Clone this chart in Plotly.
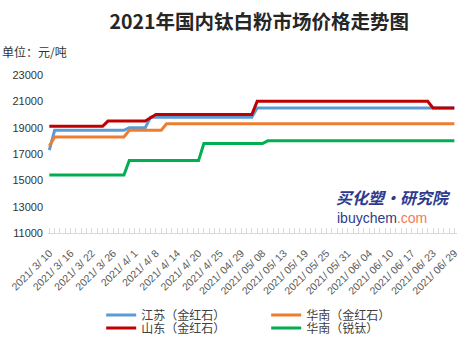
import plotly.graph_objects as go

dates = [
    "2021/3/10", "2021/3/11", "2021/3/12", "2021/3/15", "2021/3/16", "2021/3/17", "2021/3/18", "2021/3/19",
    "2021/3/22", "2021/3/23", "2021/3/24", "2021/3/25", "2021/3/26", "2021/3/29", "2021/3/30", "2021/3/31",
    "2021/4/1", "2021/4/2", "2021/4/6", "2021/4/7", "2021/4/8", "2021/4/9", "2021/4/12", "2021/4/13",
    "2021/4/14", "2021/4/15", "2021/4/16", "2021/4/19", "2021/4/20", "2021/4/21", "2021/4/22", "2021/4/23",
    "2021/4/25", "2021/4/26", "2021/4/27", "2021/4/28", "2021/04/29", "2021/04/30", "2021/05/06", "2021/05/07",
    "2021/05/08", "2021/05/10", "2021/05/11", "2021/05/12", "2021/05/13", "2021/05/14", "2021/05/17", "2021/05/18",
    "2021/05/19", "2021/05/20", "2021/05/21", "2021/05/24", "2021/05/25", "2021/05/26", "2021/05/27", "2021/05/28",
    "2021/05/31", "2021/06/01", "2021/06/02", "2021/06/03", "2021/06/04", "2021/06/07", "2021/06/08", "2021/06/09",
    "2021/06/10", "2021/06/11", "2021/06/15", "2021/06/16", "2021/06/17", "2021/06/18", "2021/06/21", "2021/06/22",
    "2021/06/23", "2021/06/24", "2021/06/25", "2021/06/28", "2021/06/29",
]

jiangsu = [
    17300,
    18800, 18800, 18800, 18800, 18800, 18800, 18800, 18800, 18800, 18800, 18800, 18800, 18800, 18800,
    19000, 19000, 19000, 19000,
    19800, 19800, 19800, 19800, 19800, 19800, 19800, 19800, 19800, 19800,
    19800, 19800, 19800, 19800, 19800, 19800, 19800, 19800, 19800, 19800,
    20500, 20500, 20500, 20500, 20500, 20500, 20500, 20500, 20500, 20500,
    20500, 20500, 20500, 20500, 20500, 20500, 20500, 20500, 20500, 20500,
    20500, 20500, 20500, 20500, 20500, 20500, 20500, 20500, 20500, 20500,
    20500, 20500, 20500, 20500, 20500, 20500, 20500, 20500,
]

huanan_rutile = [
    17600,
    18300, 18300, 18300, 18300, 18300, 18300, 18300, 18300, 18300, 18300, 18300, 18300, 18300, 18300,
    18800, 18800, 18800, 18800, 18800, 18800, 18800,
    19300, 19300, 19300, 19300, 19300, 19300, 19300, 19300, 19300, 19300,
    19300, 19300, 19300, 19300, 19300, 19300, 19300, 19300, 19300, 19300,
    19300, 19300, 19300, 19300, 19300, 19300, 19300, 19300, 19300, 19300,
    19300, 19300, 19300, 19300, 19300, 19300, 19300, 19300, 19300, 19300,
    19300, 19300, 19300, 19300, 19300, 19300, 19300, 19300, 19300, 19300,
    19300, 19300, 19300, 19300, 19300,
]

shandong = [
    19100, 19100, 19100, 19100, 19100, 19100, 19100, 19100, 19100, 19100, 19100,
    19500, 19500, 19500, 19500, 19500, 19500, 19500, 19500,
    19750,
    20000, 20000, 20000, 20000, 20000, 20000, 20000, 20000, 20000, 20000,
    20000, 20000, 20000, 20000, 20000, 20000, 20000, 20000, 20000,
    21000, 21000, 21000, 21000, 21000, 21000, 21000, 21000, 21000, 21000,
    21000, 21000, 21000, 21000, 21000, 21000, 21000, 21000, 21000, 21000,
    21000, 21000, 21000, 21000, 21000, 21000, 21000, 21000, 21000, 21000,
    21000, 21000, 21000,
    20500, 20500, 20500, 20500, 20500,
]

huanan_anatase = [
    15400, 15400, 15400, 15400, 15400, 15400, 15400, 15400, 15400, 15400, 15400, 15400, 15400, 15400, 15400,
    16500, 16500, 16500, 16500, 16500, 16500, 16500, 16500, 16500, 16500, 16500, 16500, 16500, 16500,
    17800, 17800, 17800, 17800, 17800, 17800, 17800, 17800, 17800, 17800, 17800, 17800,
    18000, 18000, 18000, 18000, 18000, 18000, 18000, 18000, 18000, 18000,
    18000, 18000, 18000, 18000, 18000, 18000, 18000, 18000, 18000, 18000,
    18000, 18000, 18000, 18000, 18000, 18000, 18000, 18000, 18000, 18000,
    18000, 18000, 18000, 18000, 18000, 18000,
]

y_ticks = [11000, 13000, 15000, 17000, 19000, 21000, 23000]
label_step = 4

tick_text = [d.replace("/", "/ ") if i % label_step == 0 else "" for i, d in enumerate(dates)]

CJK = "Noto Sans CJK SC"
fig = go.Figure()

series = [
    ("江苏（金红石）", jiangsu, "#5B9BD5", "legend"),
    ("华南（金红石）", huanan_rutile, "#ED7D31", "legend"),
    ("山东（金红石）", shandong, "#C00000", "legend2"),
    ("华南（锐钛）", huanan_anatase, "#00B050", "legend2"),
]
for name, vals, color, lg in series:
    fig.add_trace(go.Scatter(
        x=dates, y=vals, mode="lines", name=name,
        line=dict(color=color, width=3), legend=lg,
    ))

legend_common = dict(
    orientation="h", xanchor="left", yanchor="middle",
    font=dict(family=CJK, size=12, color="#404040"),
    bgcolor="rgba(0,0,0,0)", entrywidth=120, itemwidth=30,
    tracegroupgap=0,
)

PH = 158.0

fig.update_layout(
    width=467, height=345,
    margin=dict(l=48, r=10, t=75, b=112, autoexpand=False),
    paper_bgcolor="white", plot_bgcolor="white",
    title=dict(text="<b>2021年国内钛白粉市场价格走势图</b>", x=0.555, xanchor="center",
               y=1 - 22 / 345, yanchor="middle",
               font=dict(family=CJK, size=19.5, color="#262626")),
    xaxis=dict(
        type="category", categoryorder="array", categoryarray=dates,
        range=[-0.25, 76.5], automargin=False,
        tickmode="array", tickvals=dates, ticktext=tick_text,
        tickangle=-45, ticks="inside", ticklen=5, tickcolor="#d9d9d9",
        showline=True, linecolor="#d9d9d9", linewidth=1,
        showgrid=False, zeroline=False,
        tickfont=dict(family="Liberation Sans", size=10.5, color="#595959"),
        ticklabelstandoff=9,
    ),
    yaxis=dict(
        range=[11000, 23000], tickvals=y_ticks, ticktext=[str(v) for v in y_ticks],
        automargin=False,
        showgrid=False, zeroline=False, showline=False, ticks="",
        tickfont=dict(family="Liberation Sans", size=11, color="#333333"),
        ticklabelstandoff=4,
    ),
    legend=dict(x=0.13, y=-(315 - 233) / PH, **legend_common),
    legend2=dict(x=0.13, y=-(328 - 233) / PH, **legend_common),
    showlegend=True,
)

fig.add_annotation(text="单位：元/吨", xref="paper", yref="paper",
                   x=-48 / 409, y=(233 - 52) / PH, xanchor="left", yanchor="middle",
                   showarrow=False, font=dict(family=CJK, size=12, color="#333333"))
fig.add_annotation(text="<b><i>买化塑·研究院</i></b>", xref="paper", yref="paper",
                   x=(393 - 48) / 409, y=(233 - 197) / PH, xanchor="center", yanchor="middle",
                   showarrow=False, font=dict(family=CJK, size=16, color="#2E3A8C"))
fig.add_annotation(text="ibuychem<span style='color:#F47B55'>.com</span>", xref="paper", yref="paper",
                   x=(382 - 48) / 409, y=(233 - 218) / PH, xanchor="center", yanchor="middle",
                   showarrow=False, font=dict(family="Liberation Sans", size=14, color="#2E3A8C"))

fig.write_html("out.html")
